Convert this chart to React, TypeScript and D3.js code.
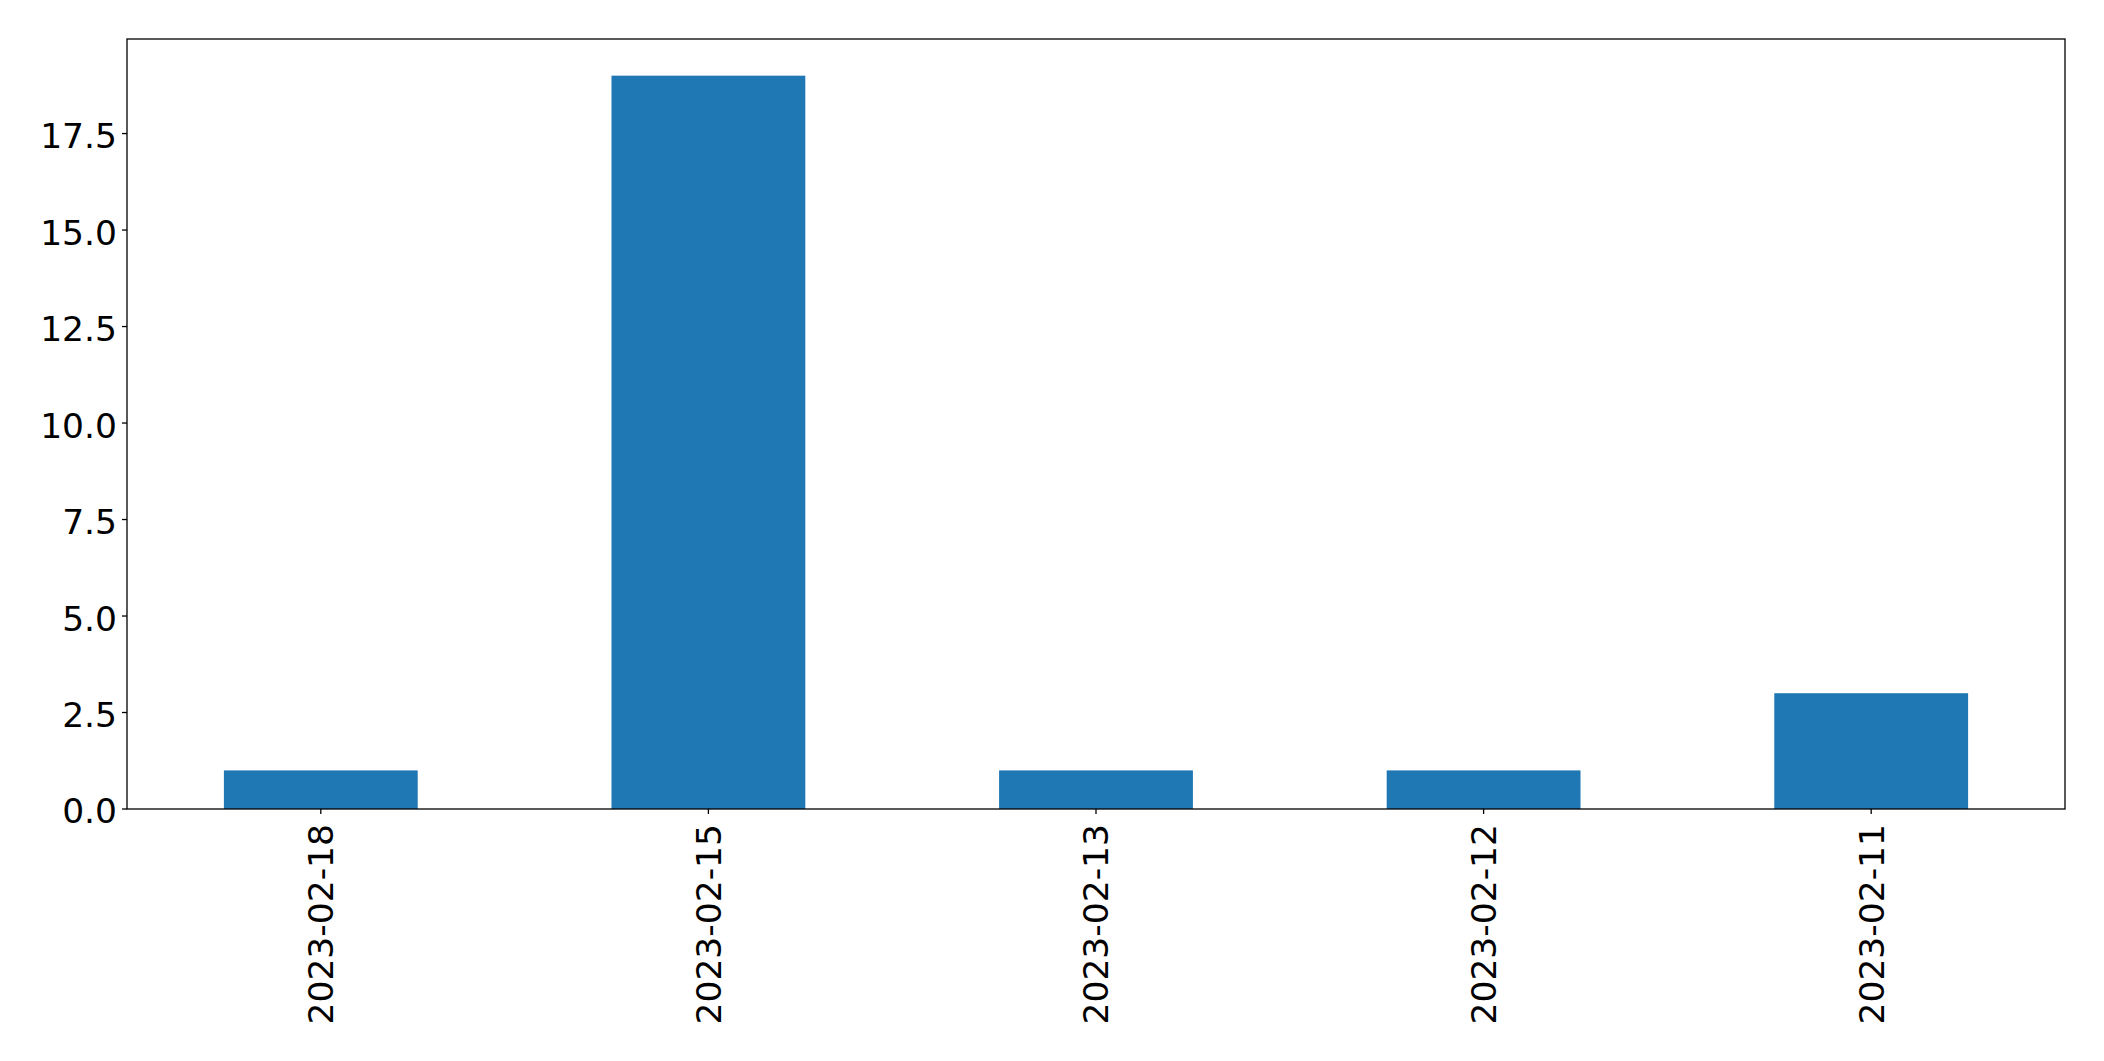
import React from "react";
import * as d3 from "d3";

const categories = ["2023-02-18", "2023-02-15", "2023-02-13", "2023-02-12", "2023-02-11"];
const values = [1, 19, 1, 1, 3];
const yTicks = [0, 2.5, 5, 7.5, 10, 12.5, 15, 17.5];

export default function App() {
  const W = 2104, H = 1061;
  const left = 127, right = 2065, top = 39, bottom = 809;
  const x = d3.scaleLinear().domain([-0.5, categories.length - 0.5]).range([left, right]);
  const y = d3.scaleLinear().domain([0, 19.95]).range([bottom, top]);
  const bw = x(0.25) - x(-0.25);
  const font = "DejaVu Sans";
  const fs = 34.5;
  return (
    <svg width={W} height={H} style={{ position: "absolute", left: 0, top: 0, background: "#fff" }}>
      {values.map((v, i) => (
        <rect key={i} x={x(i) - bw / 2} y={y(v)} width={bw} height={y(0) - y(v)} fill="#1f77b4" />
      ))}
      <rect x={left} y={top} width={right - left} height={bottom - top} fill="none" stroke="#000" strokeWidth={1.3} />
      {yTicks.map((t) => (
        <g key={t}>
          <line x1={left - 5} x2={left} y1={y(t)} y2={y(t)} stroke="#000" strokeWidth={1.3} />
          <text x={left - 10} y={y(t)} dy="0.42em" textAnchor="end" fontFamily={font} fontSize={fs} fill="#000">
            {t.toFixed(1)}
          </text>
        </g>
      ))}
      {categories.map((c, i) => (
        <g key={c}>
          <line x1={x(i)} x2={x(i)} y1={bottom} y2={bottom + 5} stroke="#000" strokeWidth={1.3} />
          <text
            transform={`translate(${x(i)},${bottom + 15}) rotate(-90)`}
            dy="0.36em"
            textAnchor="end"
            fontFamily={font}
            fontSize={fs}
            fill="#000"
          >
            {c}
          </text>
        </g>
      ))}
    </svg>
  );
}
